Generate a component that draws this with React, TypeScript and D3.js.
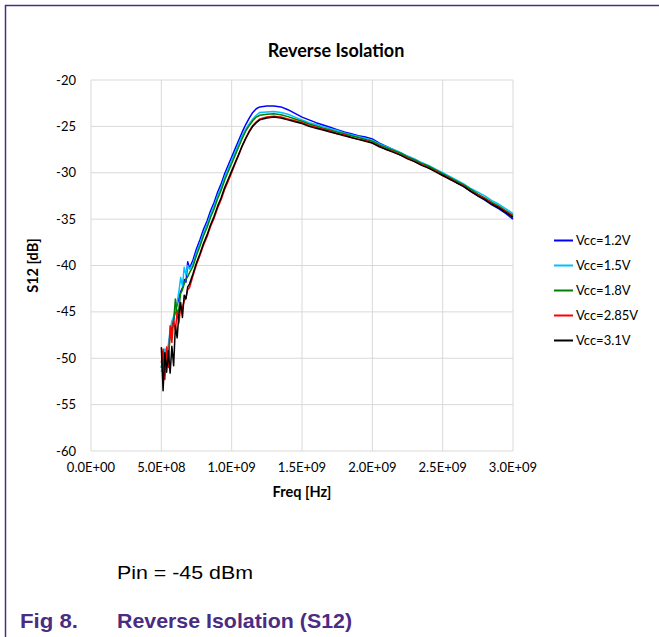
import React from 'react';
import * as d3 from 'd3';

const freqMHz = [
  500, 512.5, 525, 537.5, 550, 562.5, 575, 587.5, 600, 612.5, 625, 637.5, 650, 662.5, 675, 687.5, 700,
  725, 750, 775, 800, 825, 850, 875, 900, 925, 950, 975, 1000, 1025, 1050, 1075, 1100, 1125, 1150, 1175, 1200,
  1250, 1300, 1350, 1400, 1450, 1500, 1550, 1600, 1650, 1700, 1750, 1800, 1850, 1900, 1950, 2000,
  2050, 2100, 2150, 2200, 2250, 2300, 2350, 2400, 2450, 2500, 2550, 2600, 2650, 2700, 2750, 2800,
  2850, 2900, 2950, 3000,
];

const vcc12 = [
  -51.0, -50.0, -50.8, -49.5, -48.8, -47.5, -46.6, -45.8, -45.0, -44.2, -43.5, -42.8, -42.4, -41.5, -41.8, -39.6, -40.3,
  -39.4, -38.2, -37.2, -36.1, -35.2, -34.1, -33.2, -32.1, -31.2, -30.1, -29.2, -28.3, -27.4, -26.5, -25.6, -24.8, -24.1, -23.5, -23.1, -22.9,
  -22.8, -22.8, -22.9, -23.2, -23.6, -24.0, -24.3, -24.6, -24.85, -25.1, -25.35, -25.6, -25.8, -26.0, -26.15, -26.35,
  -26.8, -27.15, -27.5, -27.85, -28.25, -28.6, -29.0, -29.35, -29.8, -30.2, -30.6, -31.05, -31.5, -32.0, -32.5, -32.95,
  -33.45, -33.9, -34.4, -35.0,
];
const vcc15 = [
  -51.5, -50.5, -49.0, -50.8, -48.5, -47.0, -46.0, -45.5, -44.8, -44.0, -42.8, -41.3, -42.2, -40.2, -41.0, -40.0, -40.4,
  -39.8, -38.6, -37.6, -36.5, -35.6, -34.5, -33.6, -32.5, -31.6, -30.5, -29.6, -28.7, -27.8, -26.9, -26.0, -25.3, -24.7, -24.2, -23.8, -23.5,
  -23.45, -23.4, -23.5, -23.7, -24.0, -24.3, -24.6, -24.8, -25.05, -25.25, -25.45, -25.7, -25.9, -26.1, -26.3, -26.5,
  -26.9, -27.2, -27.5, -27.8, -28.2, -28.5, -28.9, -29.2, -29.6, -30.0, -30.4, -30.8, -31.2, -31.7, -32.1, -32.5,
  -33.0, -33.4, -33.9, -34.4,
];
const vcc18 = [
  -51.0, -50.2, -51.8, -49.6, -50.0, -47.6, -47.0, -46.0, -43.6, -45.3, -44.6, -43.0, -42.6, -42.0, -41.5, -41.2, -40.8,
  -40.1, -38.9, -37.9, -36.8, -35.9, -34.8, -33.9, -32.8, -31.9, -30.8, -29.9, -29.0, -28.1, -27.2, -26.3, -25.5, -24.9, -24.4, -24.0, -23.8,
  -23.7, -23.65, -23.75, -23.95, -24.2, -24.45, -24.75, -24.95, -25.2, -25.4, -25.6, -25.8, -26.0, -26.2, -26.4, -26.6,
  -27.0, -27.3, -27.6, -27.9, -28.3, -28.6, -29.0, -29.3, -29.7, -30.1, -30.5, -30.9, -31.3, -31.8, -32.3, -32.7,
  -33.2, -33.6, -34.1, -34.6,
];
const vcc285 = [
  -50.5, -49.0, -52.3, -48.8, -51.0, -46.5, -48.3, -45.8, -47.0, -45.0, -46.2, -44.5, -44.6, -43.8, -43.5, -42.6, -42.4,
  -41.1, -39.9, -38.9, -37.8, -36.9, -35.8, -34.9, -33.8, -32.9, -31.8, -30.9, -30.0, -29.0, -28.1, -27.1, -26.3, -25.5, -24.9, -24.5, -24.2,
  -24.0, -23.9, -24.0, -24.2, -24.4, -24.6, -24.9, -25.1, -25.3, -25.5, -25.8, -25.9, -26.2, -26.4, -26.5, -26.8,
  -27.1, -27.5, -27.7, -28.1, -28.4, -28.8, -29.1, -29.5, -29.8, -30.3, -30.6, -31.1, -31.4, -32.0, -32.4, -32.8,
  -33.3, -33.7, -34.2, -34.7,
];
const vcc31 = [
  -48.8, -53.5, -49.4, -51.5, -49.2, -51.6, -48.7, -50.8, -46.5, -47.8, -45.2, -44.0, -45.6, -43.2, -43.6, -42.3, -42.0,
  -40.9, -39.7, -38.7, -37.6, -36.7, -35.6, -34.7, -33.6, -32.7, -31.6, -30.7, -29.8, -28.9, -28.0, -27.1, -26.3, -25.6, -25.0, -24.6, -24.3,
  -24.1, -24.0, -24.1, -24.3, -24.5, -24.7, -25.0, -25.2, -25.4, -25.6, -25.8, -26.0, -26.2, -26.4, -26.6, -26.8,
  -27.2, -27.5, -27.8, -28.1, -28.5, -28.8, -29.2, -29.5, -29.9, -30.3, -30.7, -31.1, -31.5, -32.0, -32.5, -32.9,
  -33.4, -33.8, -34.3, -34.8,
];

const seriesNames = ['Vcc=1.2V', 'Vcc=1.5V', 'Vcc=1.8V', 'Vcc=2.85V', 'Vcc=3.1V'];
const seriesValues = [vcc12, vcc15, vcc18, vcc285, vcc31];
const seriesColors = ['#0000FF', '#00C0FF', '#008000', '#FF0000', '#000000'];

const xTicks = [0, 5e8, 1e9, 1.5e9, 2e9, 2.5e9, 3e9];
const xTickLabels = ['0.0E+00', '5.0E+08', '1.0E+09', '1.5E+09', '2.0E+09', '2.5E+09', '3.0E+09'];
const yTicks = [-20, -25, -30, -35, -40, -45, -50, -55, -60];

const W = 659;
const H = 637;
const CHART_FONT = 'Lato, "Open Sans", sans-serif';
const DOC_FONT = '"Liberation Sans", Arial, sans-serif';
const PURPLE = '#4B2C83';

export default function App() {
  const x = d3.scaleLinear().domain([0, 3e9]).range([91, 513]);
  const y = d3.scaleLinear().domain([-60, -20]).range([451, 80]);
  const line = d3
    .line<number>()
    .x((_, i) => x(freqMHz[i] * 1e6))
    .y((v) => y(v));

  return (
    <svg
      width={W}
      height={H}
      viewBox={`0 0 ${W} ${H}`}
      style={{ position: 'fixed', left: 0, top: 0, background: '#fff' }}
    >
      <rect x={0} y={0} width={W} height={H} fill="#fff" />
      {/* document frame */}
      <line x1={5} x2={W} y1={5.5} y2={5.5} stroke={PURPLE} strokeWidth={1.5} />
      <line x1={5.5} x2={5.5} y1={5} y2={H} stroke={PURPLE} strokeWidth={1.5} />

      {/* title */}
      <text
        x={336}
        y={57}
        textAnchor="middle"
        fontFamily={CHART_FONT}
        fontWeight="bold"
        fontSize={18}
        fill="#000"
      >
        Reverse Isolation
      </text>

      {/* gridlines */}
      {yTicks.map((t) => (
        <line key={'gy' + t} x1={x(0)} x2={x(3e9)} y1={y(t)} y2={y(t)} stroke="#D9D9D9" strokeWidth={1} />
      ))}
      {xTicks.map((t) => (
        <line key={'gx' + t} x1={x(t)} x2={x(t)} y1={y(-20)} y2={y(-60)} stroke="#D9D9D9" strokeWidth={1} />
      ))}

      {/* y tick labels */}
      {yTicks.map((t) => (
        <text
          key={'ly' + t}
          x={76}
          y={y(t) + 4.5}
          textAnchor="end"
          fontFamily={CHART_FONT}
          fontSize={13}
          fill="#000"
        >
          {String(t)}
        </text>
      ))}
      {/* x tick labels */}
      {xTicks.map((t, i) => (
        <text
          key={'lx' + t}
          x={x(t)}
          y={472}
          textAnchor="middle"
          fontFamily={CHART_FONT}
          fontSize={13}
          fill="#000"
        >
          {xTickLabels[i]}
        </text>
      ))}

      {/* axis titles */}
      <text
        x={302}
        y={497}
        textAnchor="middle"
        fontFamily={CHART_FONT}
        fontWeight="bold"
        fontSize={14.5}
        fill="#000"
      >
        Freq [Hz]
      </text>
      <text
        transform={`translate(38,${(y(-20) + y(-60)) / 2}) rotate(-90)`}
        textAnchor="middle"
        fontFamily={CHART_FONT}
        fontWeight="bold"
        fontSize={14.5}
        fill="#000"
      >
        S12 [dB]
      </text>

      {/* series */}
      {seriesValues.map((vals, si) => (
        <path
          key={'s' + si}
          d={line(vals) || ''}
          fill="none"
          stroke={seriesColors[si]}
          strokeWidth={1.5}
          strokeLinejoin="round"
        />
      ))}

      {/* legend */}
      {seriesNames.map((name, i) => {
        const ly = 240.5 + i * 25;
        return (
          <g key={'lg' + i}>
            <line x1={554} x2={573} y1={ly} y2={ly} stroke={seriesColors[i]} strokeWidth={2} />
            <text x={576} y={ly + 4.5} fontFamily={CHART_FONT} fontSize={13} fill="#000">
              {name}
            </text>
          </g>
        );
      })}

      {/* document text */}
      <text x={117} y={579} fontFamily={DOC_FONT} fontSize={19} textLength={136} lengthAdjust="spacingAndGlyphs" fill="#000">
        Pin = -45 dBm
      </text>
      <text x={20} y={628} fontFamily={DOC_FONT} fontWeight="bold" fontSize={21} textLength={58} lengthAdjust="spacingAndGlyphs" fill={PURPLE}>
        Fig 8.
      </text>
      <text x={117} y={628} fontFamily={DOC_FONT} fontWeight="bold" fontSize={21} textLength={235} lengthAdjust="spacingAndGlyphs" fill={PURPLE}>
        Reverse Isolation (S12)
      </text>
    </svg>
  );
}
